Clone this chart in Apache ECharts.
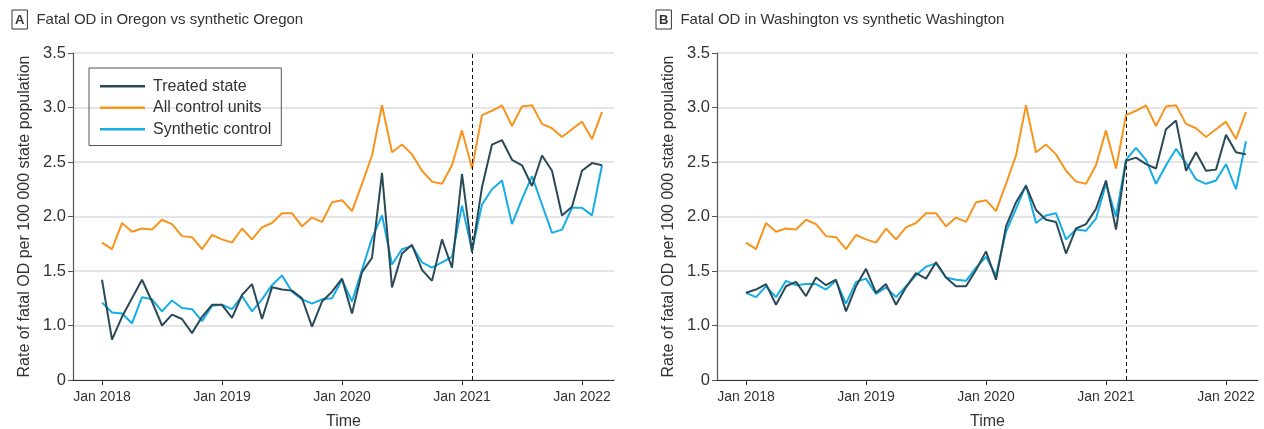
<!DOCTYPE html>
<html>
<head>
<meta charset="utf-8">
<script src="https://cdn.jsdelivr.net/npm/echarts@6/dist/echarts.min.js"></script>
<style>
html,body{margin:0;padding:0;background:#fff;}
#chart{width:1264px;height:429px;}
</style>
</head>
<body>
<div id="chart"></div>
<script>
// Months Jan 2018 .. Mar 2022 (index 0..50)
const tickMonths = [0, 12, 24, 36, 48];
const tickLabels = ['Jan 2018', 'Jan 2019', 'Jan 2020', 'Jan 2021', 'Jan 2022'];
const yTickLabels = {0.5: '0', 1: '1.0', 1.5: '1.5', 2: '2.0', 2.5: '2.5', 3: '3.0', 3.5: '3.5'};

const allControl = [1.76,1.70,1.94,1.86,1.89,1.88,1.97,1.93,1.82,1.81,1.70,1.83,1.79,1.76,1.89,1.79,1.90,1.94,2.03,
  2.03,1.91,1.99,1.95,2.13,2.15,2.05,2.30,2.56,3.02,2.59,2.66,2.57,2.42,2.32,2.30,2.47,2.79,2.44,
  2.93,2.97,3.02,2.83,3.01,3.02,2.85,2.81,2.73,2.80,2.87,2.71,2.96];

const oregonTreated = [1.42,0.87,1.08,1.25,1.42,1.22,1.00,1.10,1.06,0.93,1.08,1.19,1.19,1.07,1.28,1.38,1.06,1.35,1.33,
  1.32,1.25,0.99,1.22,1.31,1.43,1.11,1.49,1.62,2.40,1.35,1.66,1.74,1.51,1.41,1.79,1.53,2.39,1.67,
  2.27,2.66,2.70,2.52,2.47,2.28,2.56,2.42,2.01,2.09,2.42,2.49,2.47];
const oregonSynthetic = [1.21,1.12,1.11,1.02,1.26,1.24,1.13,1.23,1.16,1.15,1.04,1.18,1.19,1.15,1.27,1.13,1.24,1.37,1.46,
  1.31,1.24,1.20,1.24,1.25,1.42,1.22,1.51,1.80,2.01,1.56,1.70,1.73,1.58,1.53,1.58,1.63,2.10,1.69,
  2.11,2.25,2.33,1.93,2.16,2.37,2.11,1.85,1.88,2.08,2.08,2.01,2.47];

const waTreated = [1.30,1.33,1.38,1.19,1.36,1.40,1.27,1.44,1.37,1.42,1.13,1.36,1.52,1.30,1.38,1.19,1.35,1.48,1.43,
  1.58,1.44,1.36,1.36,1.51,1.68,1.42,1.91,2.13,2.28,2.06,1.97,1.95,1.66,1.89,1.93,2.07,2.33,1.88,
  2.51,2.54,2.48,2.44,2.80,2.88,2.42,2.59,2.42,2.43,2.75,2.59,2.57];
const waSynthetic = [1.30,1.26,1.36,1.26,1.41,1.37,1.38,1.38,1.33,1.41,1.20,1.40,1.43,1.29,1.35,1.26,1.36,1.46,1.54,
  1.57,1.44,1.42,1.41,1.53,1.63,1.46,1.86,2.07,2.29,1.94,2.01,2.03,1.79,1.88,1.87,1.98,2.30,2.00,
  2.52,2.63,2.52,2.30,2.47,2.62,2.49,2.34,2.30,2.33,2.48,2.25,2.69];

const interventionA = 37; // Feb 2021
const interventionB = 38; // Mar 2021

const C_TREAT = '#2b4a57', C_ALL = '#f7941e', C_SYN = '#14ade6';
const FONT = '"Liberation Sans", Arial, sans-serif';

const pairs = arr => arr.map((v, i) => [i, v]);

function xAxisFor(gi) {
  return {
    type: 'value', gridIndex: gi, min: -2.9, max: 51.2,
    name: 'Time', nameLocation: 'middle', nameGap: 34,
    nameTextStyle: {fontFamily: FONT, fontSize: 16, color: '#333'},
    axisLine: {show: true, onZero: false, lineStyle: {color: '#333', width: 1.2}},
    axisTick: {show: true, length: 5, customValues: tickMonths, lineStyle: {color: '#333'}},
    axisLabel: {customValues: tickMonths, margin: 10, fontFamily: FONT, fontSize: 14, color: '#333',
      formatter: v => tickLabels[tickMonths.indexOf(Math.round(v))] || ''},
    splitLine: {show: false}
  };
}
function yAxisFor(gi) {
  return {
    type: 'value', gridIndex: gi, min: 0.5, max: 3.5, interval: 0.5,
    name: 'Rate of fatal OD per 100 000 state population', nameLocation: 'middle', nameGap: 40,
    nameTextStyle: {fontFamily: FONT, fontSize: 16, color: '#333'},
    axisLine: {show: true, onZero: false, lineStyle: {color: '#555', width: 1.2}},
    axisTick: {show: true, length: 5, lineStyle: {color: '#555'}},
    axisLabel: {margin: 7, fontFamily: FONT, fontSize: 16.5, color: '#333',
      formatter: v => yTickLabels[Math.round(v * 2) / 2] || ''},
    splitLine: {show: true, lineStyle: {color: '#dcdcdc', width: 1.5}}
  };
}
function lineSeries(name, data, color, gi, z) {
  return {
    name, type: 'line', xAxisIndex: gi, yAxisIndex: gi, data: pairs(data),
    symbol: 'none', lineStyle: {color, width: 2}, itemStyle: {color}, z: z, animation: false
  };
}
function markSeries(gi, x) {
  return {
    type: 'line', xAxisIndex: gi, yAxisIndex: gi, data: [], symbol: 'none', silent: true,
    markLine: {symbol: 'none', silent: true, label: {show: false},
      lineStyle: {color: '#111', type: [4, 3], width: 1},
      data: [{xAxis: x}]}, animation: false
  };
}
function titleFor(letter, text, left) {
  return {text: '{box|' + letter + '}{gap|}' + text, left: left, top: 12, padding: 0,
    textStyle: {fontFamily: FONT, fontSize: 15, fontWeight: 'normal', color: '#333',
      rich: {box: {fontFamily: FONT, fontSize: 13, fontWeight: 'bold', color: '#333', lineHeight: 14,
        borderColor: '#333', borderWidth: 1, padding: [4, 3, 2, 3]},
        gap: {width: 9}}}};
}

const chart = echarts.init(document.getElementById('chart'), null, {renderer: 'canvas'});
chart.setOption({
  backgroundColor: '#fff',
  animation: false,
  title: [
    titleFor('A', 'Fatal OD in Oregon vs synthetic Oregon', 12),
    titleFor('B', 'Fatal OD in Washington vs synthetic Washington', 656)
  ],
  legend: {
    left: 89, top: 68, orient: 'vertical',
    data: ['Treated state', 'All control units', 'Synthetic control'],
    icon: 'rect',
    borderColor: '#555', borderWidth: 1, padding: [10, 10, 8, 11],
    itemWidth: 45, itemHeight: 2.5, itemGap: 5,
    textStyle: {fontFamily: FONT, fontSize: 16, color: '#333', lineHeight: 16.5, padding: [0, 0, 0, 3]},
    selectedMode: false
  },
  grid: [
    {left: 73, top: 53, width: 541, height: 327, outerBoundsMode: 'none', containLabel: false},
    {left: 717, top: 53, width: 541, height: 327, outerBoundsMode: 'none', containLabel: false}
  ],
  xAxis: [xAxisFor(0), xAxisFor(1)],
  yAxis: [yAxisFor(0), yAxisFor(1)],
  series: [
    markSeries(0, interventionA),
    markSeries(1, interventionB),
    lineSeries('All control units', allControl, C_ALL, 0, 3),
    lineSeries('Synthetic control', oregonSynthetic, C_SYN, 0, 4),
    lineSeries('Treated state', oregonTreated, C_TREAT, 0, 5),
    lineSeries('All control units', allControl, C_ALL, 1, 3),
    lineSeries('Synthetic control', waSynthetic, C_SYN, 1, 4),
    lineSeries('Treated state', waTreated, C_TREAT, 1, 5)
  ]
});
</script>
</body>
</html>
